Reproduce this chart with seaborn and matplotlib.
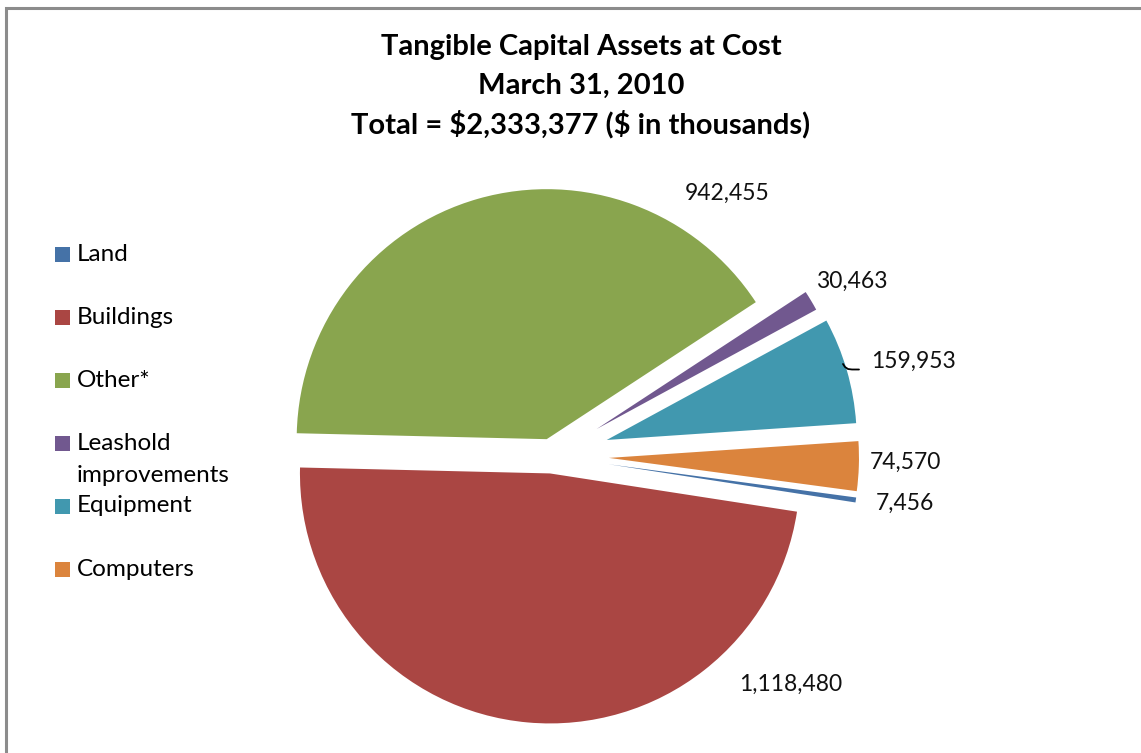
import matplotlib
matplotlib.use("Agg")
import matplotlib.pyplot as plt
from matplotlib.patches import Rectangle
from matplotlib.lines import Line2D
import seaborn as sns

# Tangible capital assets at cost, March 31, 2010 ($ thousands)
categories = ["Land", "Buildings", "Other*", "Leashold\nimprovements", "Equipment", "Computers"]
values = [7456, 1118480, 942455, 30463, 159953, 74570]
colors = ["#4572A7", "#AA4643", "#89A54E", "#71588F", "#4198AF", "#DB843D"]
explode_frac = [0.23, 0.07, 0.07, 0.21, 0.23, 0.23]

title_lines = [
    "Tangible Capital Assets at Cost",
    "March 31, 2010",
    "Total = \\$2,333,377 (\\$ in thousands)",
]

sns.set_theme(style="white")
plt.rcParams["font.family"] = ["Lato", "DejaVu Sans"]

W, H = 1141, 753
fig = plt.figure(figsize=(W / 100, H / 100), dpi=100)
fig.patch.set_facecolor("white")
ax = fig.add_axes([0, 0, 1, 1])

# pixel-like coordinates, y measured upward
cx, cy, r = 551.5, H - 456, 250
# pie() offsets exploded wedges in data units, so scale by the radius
wedges, _ = ax.pie(
    values,
    colors=colors,
    explode=[e * r for e in explode_frac],
    startangle=-7.65,
    counterclock=False,
    center=(cx, cy),
    radius=r,
    wedgeprops=dict(linewidth=0),
)
ax.set_xlim(0, W)
ax.set_ylim(0, H)
ax.set_aspect("equal")
ax.axis("off")

# value labels beside each slice
label_pos = [(905, 503), (791, 684), (727, 193), (852, 281), (913, 361), (905, 462)]
for v, (lx, ly) in zip(values, label_pos):
    ax.text(lx, H - ly, f"{v:,}", ha="center", va="center", fontsize=16.5, color="#111111")

# short leader line for the Equipment label
ax.add_line(Line2D([843, 845, 848, 852, 859], [H - 364, H - 367, H - 369, H - 369.5, H - 369.5],
                   color="black", lw=1.3))

# title
for i, line in enumerate(title_lines):
    ax.text(581, H - (47 + 38.5 * i), line, ha="center", va="center",
            fontsize=21, fontweight="bold", color="black")

# legend
legend_y = [254, 317, 380, 443, 506, 569]
for name, col, ly in zip(categories, colors, legend_y):
    ax.add_patch(Rectangle((55, H - ly - 7.5), 15, 15, facecolor=col, edgecolor="none"))
    for j, part in enumerate(name.split("\n")):
        ax.text(77, H - ly - 32 * j, part, ha="left", va="center",
                fontsize=17.5, color="black")

# chart area border (top and left edges)
ax.add_line(Line2D([6, 6, W], [0, H - 8, H - 8], color="#8C8C8C", lw=2.2, solid_joinstyle="miter"))

fig.savefig("out.png", dpi=100, facecolor="white")
